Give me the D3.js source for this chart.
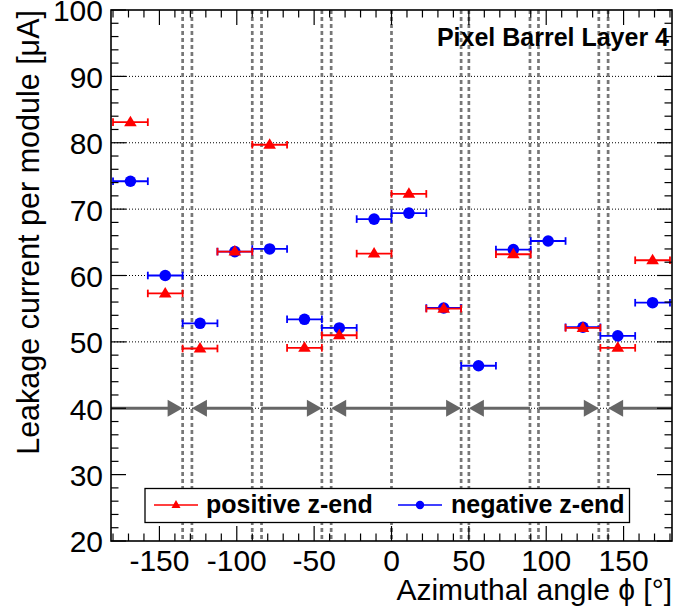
<!DOCTYPE html>
<html><head><meta charset="utf-8">
<script src="https://cdn.jsdelivr.net/npm/d3@7"></script>
<style>
html,body{margin:0;padding:0;background:#fff;}
svg{display:block;font-family:"Liberation Sans",Arial,Helvetica,sans-serif;}
</style></head>
<body>
<svg id="chart" width="678" height="608"></svg>
<script>
// ---- data ----
const phi = [-168.75, -146.25, -123.75, -101.25, -78.75, -56.25, -33.75, -11.25,
             11.25, 33.75, 56.25, 78.75, 101.25, 123.75, 146.25, 168.75];
const phiErr = [11.25, 11.25, 11.25, 11.25, 11.25, 11.25, 11.25, 11.25,
                11.25, 11.25, 11.25, 11.25, 11.25, 11.25, 11.25, 11.25];
const positiveZ = [83.1, 57.3, 49.0, 63.6, 79.7, 49.1, 51.0, 63.3,
                   72.3, 55.0, null, 63.2, null, 52.1, 49.1, 62.3];
const negativeZ = [74.2, 60.0, 52.8, 63.6, 64.0, 53.4, 52.1, 68.5,
                   69.4, 55.1, 46.4, 63.9, 65.2, 52.2, 50.9, 55.9];
const sectorLines = [-135, -129, -90, -84, -45, -39, 0, 45, 50, 89.5, 95, 134, 140];
// arrow segments at 40 uA: [from, to, arrowAtStart, arrowAtEnd]
const arrowSegs = [[-181.3, -135, 0, 1], [-129, -90, 1, 0], [-84, -45, 0, 1],
                   [-39, 45, 1, 1], [50, 89.5, 1, 0], [95, 134, 0, 1], [140, 181.3, 1, 0]];
const arrowLevel = 40;
const gridLevels = [40, 50, 60, 70, 80, 90];
const xTickLabels = [-150, -100, -50, 0, 50, 100, 150];
const yTickLabels = [20, 30, 40, 50, 60, 70, 80, 90, 100];
const seriesNames = ["positive z-end", "negative z-end"];
const titleText = "Pixel Barrel Layer 4";
const xTitle = "Azimuthal angle \u03D5 [\u00B0]";
const yTitle = "Leakage current per module [\u03BCA]";

// ---- layout ----
const L = 111, R = 672, T = 10, B = 541;
const svg = d3.select("#chart");
const x = d3.scaleLinear().domain([-181.3, 181.3]).range([L, R]);
const y = d3.scaleLinear().domain([20, 100]).range([B, T]);

const RED = "#ff0000", BLUE = "#0000ff";

svg.append("rect").attr("x", L).attr("y", T).attr("width", R - L).attr("height", B - T).attr("fill", "#fff");

// horizontal dotted grid
svg.append("g").selectAll("line").data(gridLevels).join("line")
  .attr("x1", L).attr("x2", R).attr("y1", d => y(d)).attr("y2", d => y(d))
  .attr("stroke", "#000").attr("stroke-width", 1).attr("stroke-dasharray", "1,2");

// vertical dashed sector lines
svg.append("g").selectAll("line").data(sectorLines).join("line")
  .attr("x1", d => x(d)).attr("x2", d => x(d)).attr("y1", T).attr("y2", B)
  .attr("stroke", "#777").attr("stroke-width", 2.7).attr("stroke-dasharray", "4,3");

// arrows
const ag = svg.append("g");
const AL = 15, AH = 8.5, ACOL = "#666";
arrowSegs.forEach(s => {
  const x1 = x(s[0]), x2 = x(s[1]), yy = y(arrowLevel);
  ag.append("line").attr("x1", x1 + (s[2] ? AL - 1 : 0)).attr("x2", x2 - (s[3] ? AL - 1 : 0))
    .attr("y1", yy).attr("y2", yy).attr("stroke", ACOL).attr("stroke-width", 3);
  if (s[2]) ag.append("path").attr("d", `M${x1},${yy}L${x1 + AL},${yy - AH}L${x1 + AL},${yy + AH}Z`).attr("fill", ACOL);
  if (s[3]) ag.append("path").attr("d", `M${x2},${yy}L${x2 - AL},${yy - AH}L${x2 - AL},${yy + AH}Z`).attr("fill", ACOL);
});

// data drawing
function drawSeries(vals, color, marker) {
  const g = svg.append("g");
  const pts = phi.map((p, i) => ({p, e: phiErr[i], v: vals[i]})).filter(d => d.v !== null);
  g.selectAll("line.err").data(pts).join("line").attr("class", "err")
    .attr("x1", d => x(d.p - d.e)).attr("x2", d => x(d.p + d.e))
    .attr("y1", d => y(d.v)).attr("y2", d => y(d.v))
    .attr("stroke", color).attr("stroke-width", 1.8);
  ["l", "r"].forEach(side => {
    g.selectAll("line.cap" + side).data(pts).join("line").attr("class", "cap" + side)
      .attr("x1", d => x(side === "l" ? d.p - d.e : d.p + d.e)).attr("x2", d => x(side === "l" ? d.p - d.e : d.p + d.e))
      .attr("y1", d => y(d.v) - 3.8).attr("y2", d => y(d.v) + 3.8)
      .attr("stroke", color).attr("stroke-width", 1.8);
  });
  if (marker === "circle") {
    g.selectAll("circle").data(pts).join("circle")
      .attr("cx", d => x(d.p)).attr("cy", d => y(d.v)).attr("r", 5.8).attr("fill", color);
  } else {
    g.selectAll("path").data(pts).join("path")
      .attr("d", d => { const cx = x(d.p), cy = y(d.v); return `M${cx},${cy - 6.5}L${cx + 6.3},${cy + 4}L${cx - 6.3},${cy + 4}Z`; })
      .attr("fill", color);
  }
}
drawSeries(negativeZ, BLUE, "circle");
drawSeries(positiveZ, RED, "triangle");

// frame + ticks
const fg = svg.append("g").attr("stroke", "#000").attr("stroke-width", 1.2);
const xMinor = d3.range(-180, 181, 10);
const yMinor = d3.range(20, 101, 2);
const MAJ = 15, MIN = 7.5;
xMinor.forEach(v => {
  const len = xTickLabels.includes(v) ? MAJ : MIN;
  fg.append("line").attr("x1", x(v)).attr("x2", x(v)).attr("y1", B).attr("y2", B - len);
  fg.append("line").attr("x1", x(v)).attr("x2", x(v)).attr("y1", T).attr("y2", T + len);
});
yMinor.forEach(v => {
  const len = yTickLabels.includes(v) ? MAJ : MIN;
  fg.append("line").attr("x1", L).attr("x2", L + len).attr("y1", y(v)).attr("y2", y(v));
  fg.append("line").attr("x1", R).attr("x2", R - len).attr("y1", y(v)).attr("y2", y(v));
});
svg.append("rect").attr("x", L).attr("y", T).attr("width", R - L).attr("height", B - T)
  .attr("fill", "none").attr("stroke", "#000").attr("stroke-width", 1.6);

// tick labels
svg.append("g").selectAll("text").data(xTickLabels).join("text")
  .attr("x", d => x(d)).attr("y", 571).attr("text-anchor", "middle")
  .attr("font-size", 30).attr("fill", "#000").text(d => d);
svg.append("g").selectAll("text").data(yTickLabels).join("text")
  .attr("x", 103).attr("y", d => y(d)).attr("dy", "0.38em").attr("text-anchor", "end")
  .attr("font-size", 30).attr("fill", "#000").text(d => d);

// axis titles
svg.append("text").attr("x", R).attr("y", 600).attr("text-anchor", "end")
  .attr("font-size", 30).attr("fill", "#000").text(xTitle);
svg.append("text").attr("transform", `translate(39,${T}) rotate(-90)`).attr("text-anchor", "end")
  .attr("font-size", 30.5).attr("fill", "#000").text(yTitle);

// title
svg.append("text").attr("x", 669).attr("y", 46).attr("text-anchor", "end")
  .attr("font-size", 25).attr("font-weight", "bold").attr("fill", "#000").text(titleText);

// legend
const lg = svg.append("g");
lg.append("rect").attr("x", 145).attr("y", 488.5).attr("width", 484.5).attr("height", 34)
  .attr("fill", "#fff").attr("stroke", "#000").attr("stroke-width", 1.3);
const ly = 505;
lg.append("line").attr("x1", 154).attr("x2", 198).attr("y1", ly).attr("y2", ly).attr("stroke", RED).attr("stroke-width", 1.5);
lg.append("path").attr("d", `M176,${ly - 5}L180.5,${ly + 3}L171.5,${ly + 3}Z`).attr("fill", RED);
lg.append("text").attr("x", 206).attr("y", 513).attr("font-size", 25).attr("font-weight", "bold").text(seriesNames[0]);
lg.append("line").attr("x1", 398).attr("x2", 442).attr("y1", ly).attr("y2", ly).attr("stroke", BLUE).attr("stroke-width", 1.5);
lg.append("circle").attr("cx", 420).attr("cy", ly).attr("r", 4.2).attr("fill", BLUE);
lg.append("text").attr("x", 451).attr("y", 513).attr("font-size", 25).attr("font-weight", "bold").text(seriesNames[1]);
</script>
</body></html>
